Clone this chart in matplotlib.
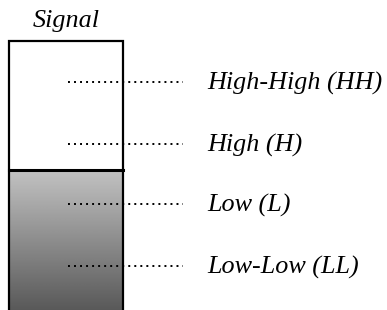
import matplotlib
matplotlib.use("Agg")
import matplotlib.pyplot as plt
import numpy as np

# Data (tank level units: 0 = bottom, 100 = top of tank)
level_names = ["High-High (HH)", "High (H)", "Low (L)", "Low-Low (LL)"]
level_values = [84.8, 61.7, 39.4, 16.4]
liquid_level = 52.0
tank_top = 100.0
title = "Signal"

plt.rcParams['font.family'] = ['Liberation Serif', 'DejaVu Serif']

fig = plt.figure(figsize=(3.87, 3.10), dpi=100)
ax = fig.add_axes([0, 0, 1, 1])
ax.axis('off')

x_left, x_right = 9, 123

# gradient liquid
grad = np.linspace(0.35, 0.76, 256).reshape(-1, 1)
ax.imshow(grad, cmap='gray', vmin=0, vmax=1, aspect='auto',
          extent=[x_left, x_right, 0, liquid_level], origin='lower', zorder=1)
ax.set_xlim(0, 387)
ax.set_ylim(0, 115.2)

# tank walls
ax.plot([x_left, x_left, x_right, x_right], [-2, tank_top, tank_top, -2],
        color='black', lw=1.6, solid_joinstyle='miter', zorder=3)
ax.plot([x_left, x_right], [liquid_level, liquid_level], color='black', lw=2.2, zorder=3)

for name, v in zip(level_names, level_values):
    ax.plot([68, 183], [v, v], color='black', lw=1.4, linestyle=(0, (1, 2.1)), zorder=4)
    ax.text(207, v - 0.6, name, fontsize=18.8, style='italic', va='center', ha='left')

ax.text(66, 107.3, title, fontsize=18.8, style='italic', va='center', ha='center')

fig.savefig("out.png", dpi=100)
